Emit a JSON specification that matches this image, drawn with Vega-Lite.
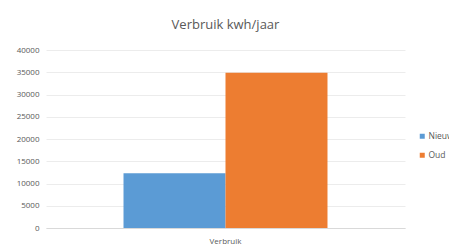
{
  "$schema": "https://vega.github.io/schema/vega-lite/v6.json",
  "autosize": {"type": "none"},
  "width": 359,
  "height": 178,
  "padding": {"left": 46, "top": 50, "right": 44, "bottom": 19},
  "background": "white",
  "title": {
    "text": "Verbruik kwh/jaar",
    "font": "Open Sans",
    "fontSize": 13,
    "fontWeight": "normal",
    "color": "#595959",
    "anchor": "middle",
    "offset": 14
  },
  "data": {
    "values": [
      {"categorie": "Verbruik", "reeks": "Nieuw", "waarde": 12300},
      {"categorie": "Verbruik", "reeks": "Oud", "waarde": 34900}
    ]
  },
  "mark": {"type": "bar"},
  "encoding": {
    "x": {
      "field": "categorie",
      "type": "nominal",
      "scale": {"paddingInner": 0, "paddingOuter": 0.38},
      "axis": {
        "title": null,
        "labelAngle": 0,
        "ticks": false,
        "domainColor": "#d9d9d9",
        "labelColor": "#595959",
        "labelFont": "Open Sans",
        "labelFontSize": 8,
        "labelPadding": 9
      }
    },
    "xOffset": {"field": "reeks", "type": "nominal", "scale": {"paddingInner": 0, "paddingOuter": 0}},
    "y": {
      "field": "waarde",
      "type": "quantitative",
      "scale": {"domain": [0, 40000], "nice": false},
      "axis": {
        "title": null,
        "values": [0, 5000, 10000, 15000, 20000, 25000, 30000, 35000, 40000],
        "format": "d",
        "domain": false,
        "ticks": false,
        "gridColor": "#ececec",
        "labelColor": "#595959",
        "labelFont": "Open Sans",
        "labelFontSize": 8,
        "labelPadding": 7
      }
    },
    "color": {
      "field": "reeks",
      "type": "nominal",
      "scale": {"domain": ["Nieuw", "Oud"], "range": ["#5b9bd5", "#ed7d31"]},
      "legend": {
        "title": null,
        "orient": "none",
        "legendX": 372,
        "legendY": 82,
        "symbolType": "square",
        "symbolSize": 25,
        "symbolStrokeWidth": 0,
        "labelColor": "#595959",
        "labelFont": "Open Sans",
        "labelFontSize": 8.5,
        "labelOffset": 2,
        "rowPadding": 10
      }
    }
  },
  "config": {"view": {"stroke": null}}
}
